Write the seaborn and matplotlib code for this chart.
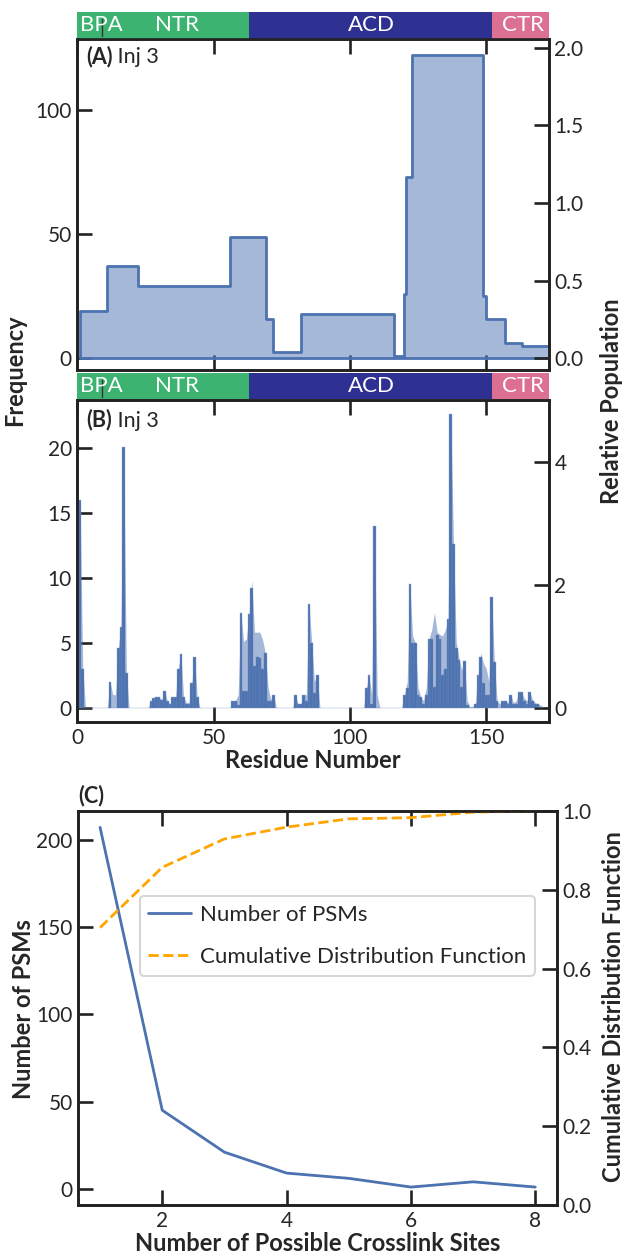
import numpy as np
import matplotlib.pyplot as plt
import seaborn as sns

# -----------------------------------------------
# Panel A: frecuencia por tramos de residuos
a_edges = [1, 10.8, 22.2, 56, 69.1, 71.9, 82.1, 116, 119.9, 120.6, 122.7,
           149, 149.9, 157, 163, 175]
a_freq = [19, 37, 29, 49, 16, 2.5, 18, 1, 26, 73, 122, 25, 16, 6.3, 5.1]

# -----------------------------------------------
# Panel B: frecuencia por residuo (0..172) y población relativa
residues = list(range(173))
freq_b = [
    0, 16, 3, 0, 0, 0, 0, 0, 0, 0,
    0, 0, 2.0, 0, 0, 4.6, 6.2, 20.1, 2.7, 0,
    0, 0, 0, 0, 0, 0, 0, 0.5, 0.7, 0.8,
    0.8, 0.6, 1.3, 0.5, 0.3, 0.8, 0.8, 3.0, 4.1, 0.8,
    0.3, 0.3, 1.9, 3.9, 0.8, 0, 0, 0, 0, 0,
    0, 0, 0, 0, 0, 0, 0, 0.5, 0.5, 0.2,
    7.3, 1.3, 1.3, 7.2, 9.2, 3.2, 3.9, 3.8, 3.0, 4.2,
    0.5, 0.5, 1.0, 0, 0, 0, 0, 0, 0, 0,
    1.0, 0.3, 0.3, 1.0, 0.5, 8.0, 5.0, 1.1, 2.5, 0,
    0, 0, 0, 0, 0, 0, 0, 0, 0, 0,
    0, 0, 0, 0, 0, 0, 1.5, 2.5, 0.3, 14.0,
    0, 0, 0, 0, 0, 0, 0, 0, 0, 0,
    1.0, 1.5, 9.5, 5.0, 5.0, 1.0, 0.8, 0.3, 1.0, 5.3,
    5.3, 1.6, 5.6, 5.3, 2.5, 3.0, 6.8, 22.6, 12.6, 4.6,
    3.7, 1.6, 3.6, 0.2, 0, 0, 0.3, 2.5, 3.9, 1.9,
    1.0, 1.0, 8.5, 3.5, 0.5, 0, 0.5, 0.5, 0.3, 1.0,
    0.3, 0.3, 1.2, 1.2, 0.5, 0.3, 1.2, 0.5, 0.3, 0.3,
    0, 0, 0,
]
rel_pop_b = [
    3.20, 3.39, 0.64, 0, 0, 0, 0, 0, 0, 0,
    0, 0, 0.42, 0.21, 0.21, 0.97, 1.31, 4.26, 0.57, 0,
    0, 0, 0, 0, 0, 0, 0, 0.11, 0.15, 0.17,
    0.17, 0.13, 0.28, 0.11, 0.06, 0.17, 0.17, 0.64, 0.87, 0.17,
    0.08, 0.08, 0.40, 0.83, 0.17, 0, 0, 0, 0, 0,
    0, 0, 0, 0, 0, 0, 0, 0.11, 0.11, 0.21,
    1.55, 1.08, 1.12, 1.53, 2.08, 1.23, 1.23, 1.23, 1.10, 0.89,
    0.32, 0.13, 0.21, 0, 0, 0, 0, 0, 0, 0,
    0.21, 0.06, 0.06, 0.21, 0.21, 1.69, 1.06, 0.42, 0.53, 0,
    0, 0, 0, 0, 0, 0, 0, 0, 0, 0,
    0, 0, 0, 0, 0, 0, 0.32, 0.53, 0.21, 2.97,
    0.21, 0, 0, 0, 0, 0, 0, 0, 0, 0,
    0.21, 0.42, 2.01, 1.17, 1.06, 0.32, 0.17, 0.11, 0.32, 1.12,
    1.27, 1.55, 1.23, 1.19, 1.17, 1.27, 1.44, 4.79, 2.67, 1.06,
    0.81, 0.61, 0.76, 0.11, 0.02, 0.02, 0.06, 0.53, 0.89, 0.72,
    0.64, 0.42, 1.80, 0.74, 0.11, 0.06, 0.11, 0.11, 0.08, 0.21,
    0.08, 0.11, 0.25, 0.25, 0.15, 0.11, 0.25, 0.13, 0.08, 0.06,
    0.04, 0, 0,
]

# -----------------------------------------------
# Dominios de la proteína
domain_names = ["NTR", "ACD", "CTR"]
domain_start = [0, 63, 152]
domain_end = [63, 152, 175]
domain_colors = ["#3cb371", "#2e3192", "#db7093"]
domain_label_x = [36.5, 108, 163.5]
bpa_site = 9.2

# -----------------------------------------------
# Panel C: PSMs según número de sitios posibles
sites = [1, 2, 3, 4, 5, 6, 7, 8]
psms = [207, 45, 21, 9, 6, 1, 4, 1]
cdf = [0.704, 0.857, 0.929, 0.959, 0.980, 0.983, 0.997, 1.0]

AZUL = "#4c72b0"
TXT = "#262626"
FS_TICK = 15
FS_LAB = 17
FS_PANEL = 15.5

sns.set_theme(style="ticks")
plt.rcParams["font.family"] = ["Lato", "DejaVu Sans"]
plt.rcParams["axes.edgecolor"] = "#222222"
plt.rcParams["text.color"] = TXT


def estilo(ax):
    for s in ax.spines.values():
        s.set_visible(True)
        s.set_linewidth(1.9)
        s.set_color("#222222")
    ax.tick_params(direction="in", length=11, width=1.9, labelsize=FS_TICK,
                   colors="#222222", labelcolor=TXT, pad=4)
    ax.set_xlabel("")
    ax.set_ylabel("")


def banda(ax):
    ax.barh(0, np.subtract(domain_end, domain_start), left=domain_start,
            height=1, color=domain_colors, linewidth=0)
    ax.set_xlim(0, 173)
    ax.set_ylim(-0.5, 0.5)
    ax.axis("off")
    ax.text(9, 0, "BPA", color="white", ha="center", va="center", fontsize=16)
    for name, xl in zip(domain_names, domain_label_x):
        ax.text(xl, 0, name, color="white", ha="center", va="center", fontsize=16)
    ax.plot([bpa_site, bpa_site], [-0.4, 0.25], color="#333333", lw=1)


def etiqueta(ax, letra, x, y):
    t = ax.text(x, y, letra, transform=ax.transAxes, fontsize=FS_PANEL,
                fontweight="bold", ha="left", va="center")
    ax.annotate(" Inj 3", xy=(1, 0), xycoords=t, va="bottom", ha="left",
                fontsize=FS_PANEL)


fig = plt.figure(figsize=(6.23, 12.55), dpi=100)

# ---------------- Panel A ----------------
axA = fig.add_axes([0.1241, 0.7052, 0.757, 0.2637])
bandA = fig.add_axes([0.1241, 0.9693, 0.757, 0.0211])
a_centers = (np.array(a_edges[:-1]) + np.array(a_edges[1:])) / 2
sns.histplot(x=a_centers, weights=a_freq, bins=a_edges, element="step",
             fill=True, color=AZUL, alpha=0.5, linewidth=2, ax=axA)
axA.set_xlim(0, 173)
axA.set_ylim(-4.7, 128.5)
axA.set_yticks([0, 50, 100])
axA.set_xticks([0, 50, 100, 150])
estilo(axA)
axA.tick_params(axis="x", top=True, bottom=True, labelbottom=False)
axA2 = axA.twinx()
axA2.set_ylim(-0.075, 2.057)
axA2.set_yticks([0, 0.5, 1.0, 1.5, 2.0])
estilo(axA2)
axA2.tick_params(axis="x", top=False, bottom=False)
etiqueta(axA, "(A)", 0.018, 0.947)
banda(bandA)

# ---------------- Panel B ----------------
axB = fig.add_axes([0.1241, 0.4245, 0.757, 0.2568])
bandB = fig.add_axes([0.1241, 0.6817, 0.757, 0.0211])
sns.histplot(x=residues, weights=freq_b, discrete=True, color=AZUL,
             alpha=1, edgecolor="#8fa6cf", linewidth=0.3, ax=axB)
axB.set_xlim(0, 173)
axB.set_ylim(-1.13, 23.7)
axB.set_yticks([0, 5, 10, 15, 20])
axB.set_xticks([0, 50, 100, 150])
estilo(axB)
axB.tick_params(axis="x", top=True, bottom=True)
axB2 = axB.twinx()
axB2.fill_between(residues, rel_pop_b, color=AZUL, alpha=0.5, lw=0)
axB2.set_ylim(-0.24, 5.02)
axB2.set_yticks([0, 2, 4])
estilo(axB2)
axB.set_xlabel("Residue Number", fontsize=FS_LAB, fontweight="bold", labelpad=1)
etiqueta(axB, "(B)", 0.02, 0.938)
banda(bandB)

fig.text(0.023, 0.705, "Frequency", rotation=90, ha="center", va="center",
         fontsize=FS_LAB, fontweight="bold")
fig.text(0.982, 0.68, "Relative Population", rotation=90, ha="center",
         va="center", fontsize=FS_LAB, fontweight="bold")

# ---------------- Panel C ----------------
axC = fig.add_axes([0.1257, 0.0398, 0.7684, 0.314])
axC2 = axC.twinx()
sns.lineplot(x=sites, y=psms, color=AZUL, lw=2, ax=axC, label="Number of PSMs",
             legend=False)
sns.lineplot(x=sites, y=cdf, color="orange", lw=2, ls="--", ax=axC2,
             label="Cumulative Distribution Function", legend=False)
axC.set_ylim(-9.3, 216.4)
axC.set_yticks([0, 50, 100, 150, 200])
axC.set_xticks([2, 4, 6, 8])
axC2.set_ylim(0, 1.0)
axC2.set_yticks([0, 0.2, 0.4, 0.6, 0.8, 1.0])
estilo(axC)
estilo(axC2)
axC.tick_params(axis="x", top=True, bottom=True)
axC2.tick_params(axis="x", top=False, bottom=False)
axC.set_xlabel("Number of Possible Crosslink Sites", fontsize=FS_LAB,
               fontweight="bold", labelpad=1)
axC.text(0.0, 1.04, "(C)", transform=axC.transAxes, fontsize=FS_PANEL,
         fontweight="bold", ha="left", va="center")
h1, l1 = axC.get_legend_handles_labels()
h2, l2 = axC2.get_legend_handles_labels()
leg = axC2.legend(h1 + h2, l1 + l2, loc="upper left",
                  bbox_to_anchor=(0.128, 0.785), fontsize=16,
                  frameon=True, fancybox=True, labelspacing=1.0,
                  borderpad=0.4, borderaxespad=0, handlelength=1.9,
                  handletextpad=0.4)
leg.get_frame().set_edgecolor("#cccccc")
leg.get_frame().set_linewidth(1.5)

fig.text(0.037, 0.196, "Number of PSMs", rotation=90, ha="center", va="center",
         fontsize=FS_LAB, fontweight="bold")
fig.text(0.984, 0.1976, "Cumulative Distribution Function", rotation=90,
         ha="center", va="center", fontsize=FS_LAB, fontweight="bold")

fig.savefig("out.png", dpi=100)
